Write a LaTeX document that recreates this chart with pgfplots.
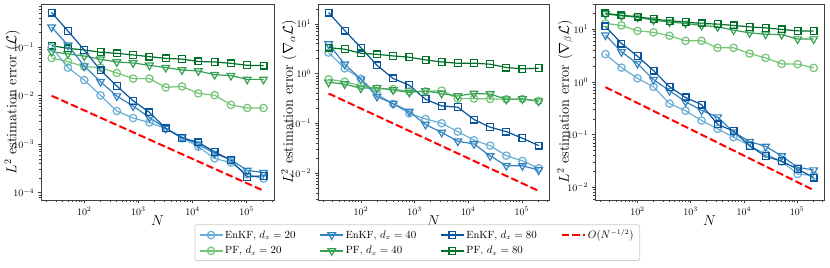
\documentclass[border=0pt]{standalone}
\usepackage{pgfplots}
\usepackage{pgfplotstable}
\pgfplotsset{compat=1.18}
\definecolor{b1}{HTML}{6AAED6}
\definecolor{b2}{HTML}{3383BE}
\definecolor{b3}{HTML}{0A549E}
\definecolor{g1}{HTML}{73C476}
\definecolor{g2}{HTML}{37A055}
\definecolor{g3}{HTML}{00702B}

\pgfplotstableread{
N e20 e40 e80 p20 p40 p80
25 0.10 0.26 0.52 0.060 0.081 0.108
50 0.038 0.11 0.217 0.0505 0.073 0.095
100 0.0211 0.041 0.088 0.040 0.066 0.088
200 0.0102 0.0195 0.0335 0.038 0.0565 0.079
400 0.00484 0.00986 0.0159 0.0295 0.0497 0.075
800 0.00347 0.00614 0.0079 0.0226 0.0475 0.0695
1600 0.00282 0.00358 0.00454 0.0226 0.0425 0.064
3200 0.0021 0.00212 0.00212 0.0149 0.038 0.059
6400 0.00135 0.0014 0.00136 0.0156 0.034 0.057
12800 0.00089 0.0010 0.00109 0.0112 0.0325 0.051
25600 0.00051 0.00065 0.0007 0.0103 0.0272 0.0497
51200 0.00042 0.00048 0.00047 0.0065 0.026 0.0467
102400 0.00024 0.00029 0.000213 0.0056 0.0218 0.0425
204800 0.000196 0.00026 0.000224 0.0056 0.0218 0.0418
}\tabA
\pgfplotstableread{
N e20 e40 e80 p20 p40 p80
25 2.65 3.96 16.9 0.77 0.67 3.34
50 1.28 1.55 7.35 0.69 0.62 3.1
100 0.79 0.77 3.34 0.57 0.51 2.57
200 0.386 0.347 1.47 0.50 0.52 2.45
400 0.247 0.25 0.80 0.49 0.47 2.27
800 0.16 0.174 0.586 0.44 0.42 2.14
1600 0.123 0.095 0.306 0.44 0.45 1.89
3200 0.101 0.066 0.225 0.457 0.40 1.72
6400 0.0687 0.0439 0.212 0.316 0.357 1.62
12800 0.046 0.0389 0.12 0.316 0.40 1.62
25600 0.0359 0.0223 0.084 0.311 0.39 1.55
51200 0.0226 0.0142 0.0687 0.306 0.306 1.33
102400 0.0177 0.0141 0.0505 0.31 0.31 1.25
204800 0.0126 0.0116 0.0359 0.284 0.28 1.29
}\tabB
\pgfplotstableread{
N e20 e40 e80 p20 p40 p80
25 3.39 7.8 11.4 13.0 19.6 20.2
50 1.88 3.75 5.4 11.9 18.2 18.5
100 1.18 2.24 3.1 9.4 17.0 17.5
200 0.81 1.11 1.65 8.8 15.0 15.7
400 0.39 0.687 0.815 7.57 13.8 14.6
800 0.285 0.424 0.51 6.08 13.0 13.8
1600 0.186 0.29 0.372 6.08 11.9 13.0
3200 0.129 0.216 0.157 4.47 11.2 12.6
6400 0.0897 0.112 0.117 4.47 9.7 11.9
12800 0.0622 0.074 0.0614 3.48 8.6 11.2
25600 0.0432 0.06 0.039 2.88 8.1 10.7
51200 0.031 0.0395 0.0313 2.21 8.0 10.0
102400 0.018 0.024 0.0223 2.19 6.55 9.4
204800 0.0167 0.0213 0.0153 1.86 6.55 9.3
}\tabC

\pgfplotsset{
  every axis/.append style={
    scale only axis, height=196bp,
    anchor=south west,
    xmin=15.9, xmax=3.2e5,
    axis line style={black!75, line width=0.8bp},
    tick align=outside, xtick pos=bottom, ytick pos=left,
    major tick length=3.5bp, minor tick length=2bp,
    every tick/.style={black!75, line width=0.7bp},
    xtick={100,1000,10000,100000},
    minor xtick={20,30,40,50,60,70,80,90,200,300,400,500,600,700,800,900,2000,3000,4000,5000,6000,7000,8000,9000,20000,30000,40000,50000,60000,70000,80000,90000,200000,300000},
    tick label style={font=\fontsize{10}{12}\selectfont},
    label style={font=\fontsize{14.5}{17}\selectfont},
    xlabel={$N$},
    xlabel style={yshift=6.5bp},
  },
  every axis plot/.append style={line width=1.2bp},
  cA/.style={b1, mark=o, mark size=3.7bp, mark options={fill=white, solid}},
  cB/.style={b2, mark=triangle, mark size=4.4bp, mark options={fill=white, solid, rotate=180}},
  cC/.style={b3, mark=square, mark size=3.4bp, mark options={fill=white, solid}},
  cD/.style={g1, mark=o, mark size=3.7bp, mark options={fill=white, solid}},
  cE/.style={g2, mark=triangle, mark size=4.4bp, mark options={fill=white, solid, rotate=180}},
  cF/.style={g3, mark=square, mark size=3.4bp, mark options={fill=white, solid}},
  cR/.style={red, no marks, line width=2bp, dash pattern=on 7.4bp off 3.2bp},
}

\begin{document}
\begin{tikzpicture}
\useasboundingbox (0,0) rectangle (830bp,268bp);

% Panel 1
\begin{axis}[xmode=log, ymode=log, at={(41bp,68bp)}, width=233bp,
  ymin=7.1e-5, ymax=0.78,
  ytick={1e-4,1e-3,1e-2,1e-1},
  minor ytick={8e-5,9e-5,2e-4,3e-4,4e-4,5e-4,6e-4,7e-4,8e-4,9e-4,2e-3,3e-3,4e-3,5e-3,6e-3,7e-3,8e-3,9e-3,2e-2,3e-2,4e-2,5e-2,6e-2,7e-2,8e-2,9e-2,0.2,0.3,0.4,0.5,0.6,0.7},
  ylabel={$L^2$ estimation error ($\mathcal{L}$)},
  ylabel style={at={(axis description cs:-0.123,0.5)}, anchor=center, rotate=0},
]
\addplot[cD] table[x=N,y=p20] {\tabA};
\addplot[cE] table[x=N,y=p40] {\tabA};
\addplot[cF] table[x=N,y=p80] {\tabA};
\addplot[cA] table[x=N,y=e20] {\tabA};
\addplot[cB] table[x=N,y=e40] {\tabA};
\addplot[cC] table[x=N,y=e80] {\tabA};
\addplot[cR] coordinates {(25,0.01) (204800,0.0001105)};
\end{axis}

% Panel 2
\begin{axis}[xmode=log, ymode=log, at={(318bp,68bp)}, width=231bp,
  ymin=0.0029, ymax=25.1,
  ytick={1e-2,1e-1,1,10},
  minor ytick={3e-3,4e-3,5e-3,6e-3,7e-3,8e-3,9e-3,2e-2,3e-2,4e-2,5e-2,6e-2,7e-2,8e-2,9e-2,0.2,0.3,0.4,0.5,0.6,0.7,0.8,0.9,2,3,4,5,6,7,8,9,20},
  ylabel={$L^2$ estimation error ($\nabla_\alpha \mathcal{L}$)},
  ylabel style={at={(axis description cs:-0.126,0.5)}, anchor=center},
  legend columns=4,
  legend cell align=left,
  legend style={at={(0.43,-0.124)}, anchor=north, draw=black!20, line width=0.8bp, rounded corners=2bp,
    font=\fontsize{10.5}{12}\selectfont, inner xsep=4bp, inner ysep=3bp, row sep=2bp,
    /tikz/every even column/.append style={column sep=22bp}},
  legend image code/.code={\draw[mark repeat=2,mark phase=2] plot coordinates {(0bp,0bp) (11.5bp,0bp) (23bp,0bp)};},
]
\addplot[cA] table[x=N,y=e20] {\tabB};
\addlegendentry{EnKF, $d_x = 20$}
\addplot[cB] table[x=N,y=e40] {\tabB};
\addlegendentry{EnKF, $d_x = 40$}
\addplot[cC] table[x=N,y=e80] {\tabB};
\addlegendentry{EnKF, $d_x = 80$}
\addplot[cR] coordinates {(25,0.4) (204800,0.00442)};
\addlegendentry{$O(N^{-1/2})$}
\addplot[cD] table[x=N,y=p20] {\tabB};
\addlegendentry{PF, $d_x = 20$}
\addplot[cE] table[x=N,y=p40] {\tabB};
\addlegendentry{PF, $d_x = 40$}
\addplot[cF] table[x=N,y=p80] {\tabB};
\addlegendentry{PF, $d_x = 80$}
\end{axis}

% Panel 3
\begin{axis}[xmode=log, ymode=log, at={(595bp,68bp)}, width=229bp,
  ymin=0.00575, ymax=30.4,
  ytick={1e-2,1e-1,1,10},
  minor ytick={6e-3,7e-3,8e-3,9e-3,2e-2,3e-2,4e-2,5e-2,6e-2,7e-2,8e-2,9e-2,0.2,0.3,0.4,0.5,0.6,0.7,0.8,0.9,2,3,4,5,6,7,8,9,20,30},
  ylabel={$L^2$ estimation error ($\nabla_\beta \mathcal{L}$)},
  ylabel style={at={(axis description cs:-0.131,0.5)}, anchor=center},
]
\addplot[cD] table[x=N,y=p20] {\tabC};
\addplot[cE] table[x=N,y=p40] {\tabC};
\addplot[cF] table[x=N,y=p80] {\tabC};
\addplot[cA] table[x=N,y=e20] {\tabC};
\addplot[cB] table[x=N,y=e40] {\tabC};
\addplot[cC] table[x=N,y=e80] {\tabC};
\addplot[cR] coordinates {(25,0.8) (204800,0.00884)};
\end{axis}
\end{tikzpicture}
\end{document}
